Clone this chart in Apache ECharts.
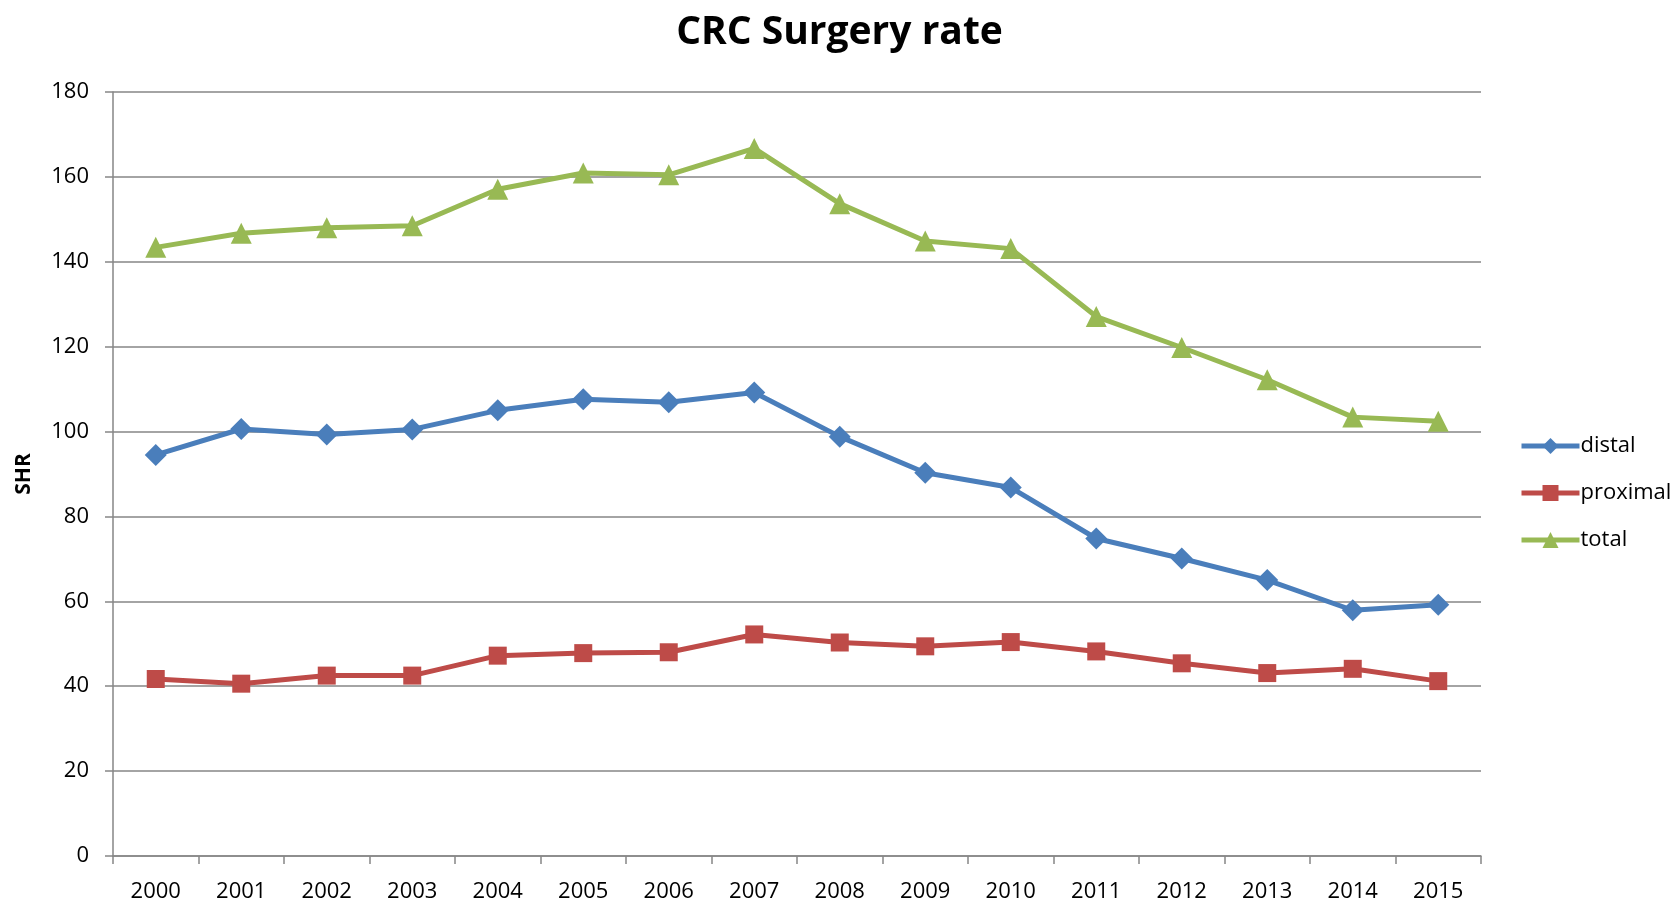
<!DOCTYPE html>
<html>
<head>
<meta charset="utf-8">
<script src="https://cdn.jsdelivr.net/npm/echarts@6/dist/echarts.min.js"></script>
<style>
html, body { margin: 0; padding: 0; background: #fff; }
#chart { width: 1679px; height: 904px; }
</style>
</head>
<body>
<div id="chart"></div>
<script>
var byId = function(id){
	return document.getElementById(id);
};

// 年份
var years = ['2000','2001','2002','2003','2004','2005','2006','2007','2008','2009','2010','2011','2012','2013','2014','2015'];
var distal = [94.5, 100.6, 99.3, 100.5, 105.0, 107.6, 106.9, 109.2, 98.8, 90.3, 86.8, 74.8, 70.1, 65.0, 57.9, 59.2];
var proximal = [41.7, 40.6, 42.5, 42.5, 47.2, 47.8, 48.0, 52.2, 50.3, 49.4, 50.4, 48.2, 45.4, 43.1, 44.1, 41.2];
var total = [143.4, 146.7, 148.0, 148.5, 157.1, 160.9, 160.5, 166.7, 153.7, 144.9, 143.1, 127.1, 119.8, 112.2, 103.4, 102.4];

var fontName = '"Open Sans", "Liberation Sans", sans-serif';
var gridColor = '#868686';

var chartOption = {
		title: {
			text: 'CRC Surgery rate',
			left: 'center',
			top: 8,
			textStyle: {
				fontFamily: fontName,
				fontSize: 39,
				fontWeight: 'bold',
				color: '#000'
			}
		},
		legend: {
			orient: 'vertical',
			left: 1514,
			top: 430,
			itemWidth: 58,
			itemHeight: 20,
			itemGap: 25,
			lineStyle: { width: 5 },
			textStyle: {
				fontFamily: fontName,
				fontSize: 22,
				lineHeight: 22,
				color: '#000',
				padding: [0, 0, 0, -4]
			},
			data: ['distal', 'proximal', 'total']
		},
		grid: {
			left: 113,
			right: 1679 - 1481,
			top: 92,
			bottom: 904 - 856
		},
		xAxis: [{
			type: 'category',
			data: years,
			boundaryGap: true,
			axisLine: { lineStyle: { color: gridColor, width: 1.5 } },
			axisTick: { show: true, length: 8, inside: false, lineStyle: { color: gridColor, width: 1.5 } },
			axisLabel: { color: '#000', fontFamily: fontName, fontSize: 22, margin: 25, interval: 0 }
		}],
		yAxis: [{
			type: 'value',
			min: 0,
			max: 180,
			interval: 20,
			name: 'SHR',
			nameLocation: 'middle',
			nameGap: 78,
			nameRotate: 90,
			nameTextStyle: { fontFamily: fontName, fontSize: 21, fontWeight: 'bold', color: '#000' },
			axisLine: { show: true, lineStyle: { color: gridColor, width: 1.5 } },
			axisTick: { show: true, length: 8, lineStyle: { color: gridColor, width: 1.5 } },
			axisLabel: { color: '#000', fontFamily: fontName, fontSize: 22, margin: 24 },
			splitLine: { show: true, lineStyle: { color: gridColor, width: 1.5 } }
		}],
		series: [{
			name: 'distal',
			type: 'line',
			data: distal,
			symbol: 'diamond',
			symbolSize: 22,
			itemStyle: { color: '#4A7EBB' },
			lineStyle: { color: '#4A7EBB', width: 5 }
		}, {
			name: 'proximal',
			type: 'line',
			data: proximal,
			symbol: 'rect',
			symbolSize: 18,
			itemStyle: { color: '#BE4B48' },
			lineStyle: { color: '#BE4B48', width: 5 }
		}, {
			name: 'total',
			type: 'line',
			data: total,
			symbol: 'triangle',
			symbolSize: 21,
			itemStyle: { color: '#98B954' },
			lineStyle: { color: '#98B954', width: 5 }
		}],
		animation: false
	};

var lineChart = echarts.init(byId('chart'));
lineChart.setOption(chartOption);
</script>
</body>
</html>
